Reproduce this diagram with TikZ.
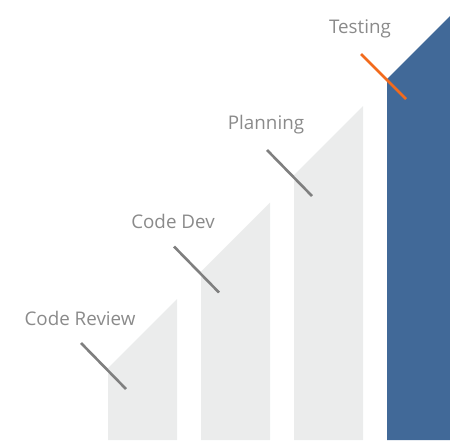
\documentclass[tikz,border=0pt]{standalone}
\usepackage{fontspec}
\setmainfont{Open Sans}
\usepackage{xcolor}
\usepackage{tikz}

\definecolor{barGrey}{HTML}{EBECEC}
\definecolor{barBlue}{HTML}{416998}
\definecolor{tickGrey}{HTML}{7F7F7F}
\definecolor{tickOrange}{HTML}{F26B1D}
\definecolor{textGrey}{HTML}{8A8A8A}

\tikzset{
  stagetext/.style={font=\fontsize{18.8}{22}\selectfont, text=textGrey, inner sep=0pt},
  tick/.style={line width=2.6pt, color=tickGrey}
}

\begin{document}
\begin{tikzpicture}[x=1pt,y=-1pt]

\useasboundingbox (0,0) rectangle (450,440);
\clip (0,0) rectangle (450,440);

% grey steps
\foreach \i/\name/\txt in {0/rev/Code Review,1/dev/Code Dev,2/plan/Planning}
	{
		\pgfmathsetmacro{\lft}{108+93*\i}
		\pgfmathsetmacro{\ytop}{368-96.5*\i}
		\fill[color=barGrey] (\lft,440)--(\lft,\ytop)--(\lft+69,\ytop-69)--(\lft+69,440)--cycle;
		\coordinate (a-\name) at (\lft-27,\ytop-25);
		\coordinate (b-\name) at (\lft+18,\ytop+21);
		\draw[tick] (a-\name)--(b-\name);
		\node[stagetext] (lab-\name) at (\lft-28,\ytop-50) {\txt};
	}

% last step
\fill[color=barBlue] (387,440)--(387,79)--(456,10)--(456,440)--cycle;

\coordinate (a-test) at (361,54);
\coordinate (b-test) at (406,99);
\draw[tick, color=tickOrange] (a-test)--(b-test);

\node[stagetext] (lab-test) at (360,29) {Testing};

\end{tikzpicture}
\end{document}
